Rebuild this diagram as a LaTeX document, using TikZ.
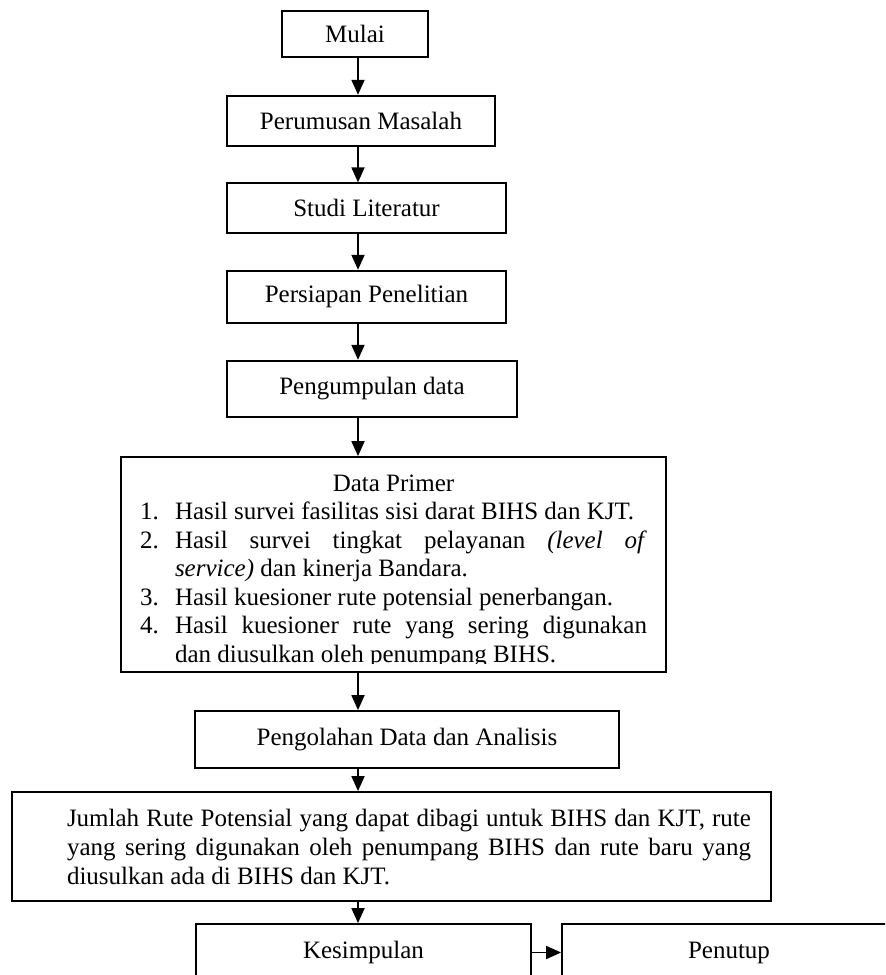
\documentclass[tikz,border=0pt]{standalone}
\usepackage{fontspec}
\setmainfont{Liberation Serif}
\usepackage{tikz}
\usetikzlibrary{arrows.meta,positioning}
\newcommand{\butir}[1]{\par\noindent\hangindent=17.5pt\hangafter=1\makebox[17.5pt][l]{#1}\ignorespaces}

\begin{document}
\begin{tikzpicture}[x=0.5pt, y=-0.5pt,
  box/.style={draw, line width=0.9pt, inner sep=0pt, align=center,
    font=\fontsize{12.5}{14}\selectfont},
  isi/.style={inner sep=0pt, align=justify, font=\fontsize{12.5}{14.25}\selectfont},
  flow/.style={line width=0.9pt, -{Triangle[length=7.5pt,width=6.5pt]}}]
\clip (0,0) rectangle (885,975);
\coordinate (axis) at (358,0);
\node[box, minimum width=73pt, minimum height=23pt] (mulai) at (355,33.7) {Mulai};
\node[box, minimum width=134pt, minimum height=25pt] (rumusan) at (361,120.7) {Perumusan Masalah};
\node[box, minimum width=139.5pt, minimum height=25pt] (studi) at (366.5,208.3) {Studi Literatur};
\node[box, minimum width=139.5pt, minimum height=26pt] (persiapan) at (366.5,296.7) {Persiapan Penelitian};
\node[box, minimum width=145pt, minimum height=28.3pt] (kumpul) at (372,389) {Pengumpulan data};
\node[box, minimum width=272.5pt, minimum height=107.5pt] (primer) at (393.5,564.5) {};
\begin{scope}
  \clip (primer.north west) rectangle ([yshift=4.5pt]primer.south east);
  \node[isi, text width=253.5pt, anchor=north] (primerisi) at ([yshift=-9pt]primer.north) {%
    {\centering Data Primer\par}
    \butir{1.}Hasil survei fasilitas sisi darat BIHS dan KJT.
    \butir{2.}Hasil survei tingkat pelayanan \textit{(level of}\linebreak\textit{service)} dan kinerja Bandara.
    \butir{3.}Hasil kuesioner rute potensial penerbangan.
    \butir{4.}Hasil kuesioner rute yang sering digunakan\linebreak dan diusulkan oleh penumpang BIHS.\par};
\end{scope}
\node[box, minimum width=212pt, minimum height=28.5pt] (olah) at (407,739.5) {Pengolahan Data dan Analisis};
\node[box, align=justify, text width=359.5pt, inner xsep=10pt, minimum height=54.5pt,
  font=\fontsize{12.5}{14.5}\selectfont] (jumlah) at (391.5,846.5) {%
  \leftskip=17.5pt Jumlah Rute Potensial yang dapat dibagi untuk BIHS dan KJT, rute\linebreak
  yang sering digunakan oleh penumpang BIHS dan rute baru yang\linebreak
  diusulkan ada di BIHS dan KJT.\par};
\node[box, minimum width=167.5pt, minimum height=28.5pt] (simpul) at (363.5,952.5) {Kesimpulan};
\node[box, minimum width=167pt, minimum height=28.5pt] (tutup) at (729,952.5) {Penutup};
\draw[flow] (mulai.south -| axis) -- (rumusan.north -| axis);
\draw[flow] (rumusan.south -| axis) -- (studi.north -| axis);
\draw[flow] (studi.south -| axis) -- (persiapan.north -| axis);
\draw[flow] (persiapan.south -| axis) -- (kumpul.north -| axis);
\draw[flow] (kumpul.south -| axis) -- (primer.north -| axis);
\draw[flow] (primer.south -| axis) -- (olah.north -| axis);
\draw[flow] (olah.south -| axis) -- (jumlah.north -| axis);
\draw[flow] (jumlah.south -| axis) -- (simpul.north -| axis);
\draw[flow] (simpul.east) -- (tutup.west);
\end{tikzpicture}
\end{document}
